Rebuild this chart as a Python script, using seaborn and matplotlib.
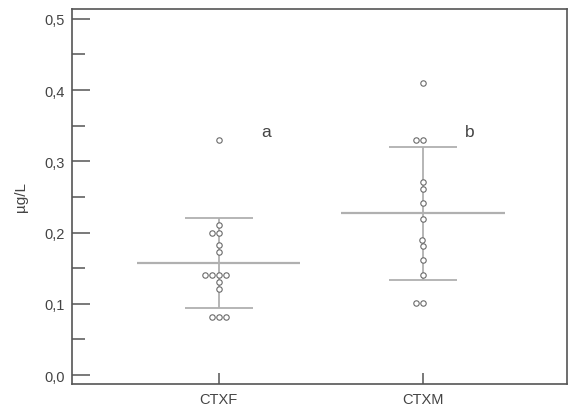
import matplotlib
matplotlib.use("Agg")
import matplotlib.pyplot as plt
from matplotlib.ticker import MultipleLocator, FuncFormatter
import seaborn as sns
import pandas as pd
import numpy as np

sns.set_style("white")
plt.rcParams['font.family'] = ['Liberation Sans', 'DejaVu Sans']

categories = ["CTXF", "CTXM"]
ctxf_values = [0.33, 0.21, 0.20, 0.20, 0.183, 0.172, 0.141, 0.141, 0.141, 0.141,
               0.131, 0.121, 0.081, 0.081, 0.081]
ctxm_values = [0.41, 0.33, 0.33, 0.271, 0.261, 0.241, 0.219, 0.19, 0.181,
               0.161, 0.14, 0.101, 0.101]
means = [0.157, 0.227]
sd_upper = [0.221, 0.32]
sd_lower = [0.094, 0.134]
letters = ["a", "b"]
letter_y = [0.342, 0.342]

df = pd.DataFrame({
    "group": ["CTXF"] * len(ctxf_values) + ["CTXM"] * len(ctxm_values),
    "value": ctxf_values + ctxm_values,
})

fig = plt.figure(figsize=(5.71, 4.10), dpi=100)
ax = fig.add_axes([0.126, 0.061, 0.867, 0.915])

line_col = "#b0b0b0"
for i, cat in enumerate(categories):
    ax.hlines(means[i], i - 0.40, i + 0.40, color=line_col, lw=1.6, zorder=1)
    ax.hlines([sd_upper[i], sd_lower[i]], i - 0.167, i + 0.167, color=line_col, lw=1.3, zorder=1)
    ax.vlines(i, sd_lower[i], sd_upper[i], color=line_col, lw=1.3, zorder=1)

sns.swarmplot(data=df, x="group", y="value", order=categories, ax=ax,
              size=3.9, color="white", edgecolor="#6a6a6a", linewidth=0.8, zorder=3)

for i, t in enumerate(letters):
    ax.text(i + 0.23, letter_y[i], t, fontsize=12.5, color="#444444",
            ha="center", va="center")

ax.set_xlim(-0.72, 1.706)
ax.set_ylim(-0.0126, 0.514)
ax.set_xlabel("")
ax.set_ylabel("µg/L", fontsize=11, color="#444444", labelpad=12)

ax.yaxis.set_major_locator(MultipleLocator(0.1))
ax.yaxis.set_minor_locator(MultipleLocator(0.05))
ax.yaxis.set_major_formatter(FuncFormatter(lambda v, p: f"{v:.1f}".replace(".", ",")))

ax.tick_params(axis="y", which="major", direction="in", length=13, width=1.1,
               color="#555555", labelsize=10.5, labelcolor="#444444", left=True, right=False, pad=5)
ax.tick_params(axis="y", which="minor", direction="in", length=9, width=1.1,
               color="#555555", left=True, right=False)
ax.tick_params(axis="x", which="major", direction="in", length=8, width=1.1,
               color="#555555", labelsize=10.5, labelcolor="#444444", bottom=True, top=False, pad=6)

for s in ax.spines.values():
    s.set_visible(True)
    s.set_color("#555555")
    s.set_linewidth(1.2)

fig.savefig("out.png", dpi=100)
